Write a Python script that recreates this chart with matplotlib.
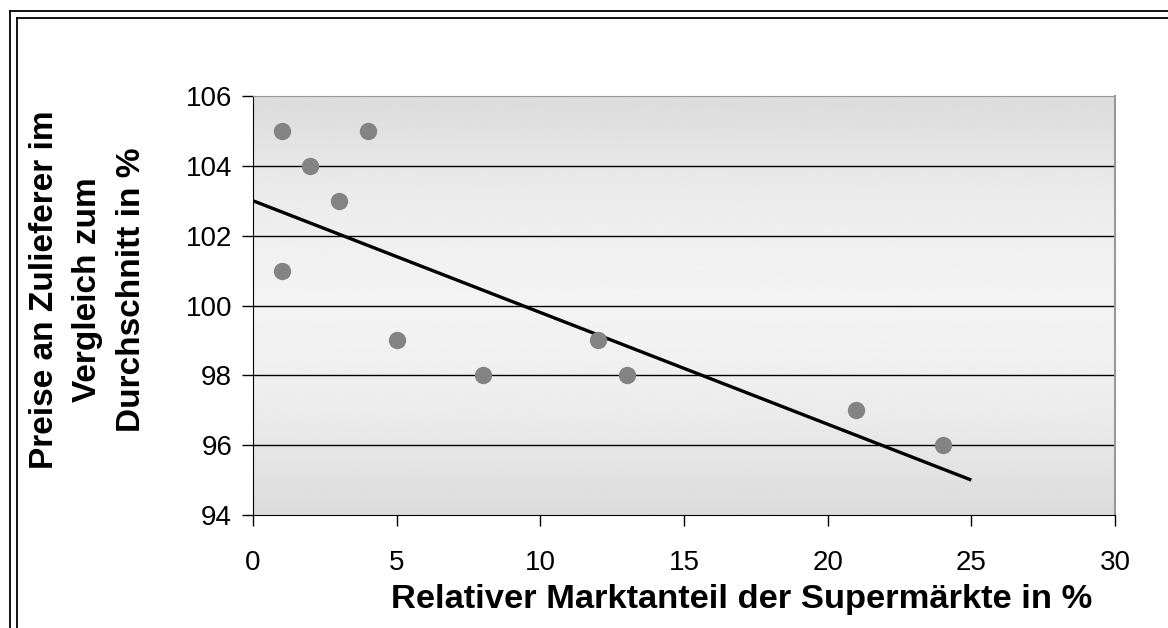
import numpy as np
import matplotlib
matplotlib.use("Agg")
import matplotlib.pyplot as plt
from matplotlib.lines import Line2D

# market share of supermarkets (%) and supplier prices vs. average (%)
marktanteil = [1, 4, 2, 3, 1, 5, 8, 12, 13, 21, 24]
preise = [105, 105, 104, 103, 101, 99, 98, 99, 98, 97, 96]

# trend line as drawn in the original
trend_x = [0, 25]
trend_y = [103, 95]

x_ticks = [0, 5, 10, 15, 20, 25, 30]
y_ticks = [94, 96, 98, 100, 102, 104, 106]

plt.rcParams['font.family'] = ['Liberation Sans', 'DejaVu Sans']

fig = plt.figure(figsize=(11.68, 6.28), dpi=100)
ax = fig.add_axes([253/1168, 1 - 515/628, (1115 - 253)/1168, (515 - 96)/628])

# gray gradient background (darker top and bottom, light in the middle)
t = np.linspace(0, 1, 256)
grad = 0.86 + 0.09 * np.sin(np.pi * t)
ax.imshow(grad.reshape(-1, 1), cmap="gray", vmin=0, vmax=1, aspect="auto",
          extent=[0, 30, 94, 106], zorder=0, interpolation="bicubic")

for yv in y_ticks[1:-1]:
    ax.axhline(yv, color="black", lw=1.0, zorder=1)

ax.plot(trend_x, trend_y, color="black", lw=2.4, zorder=2, solid_capstyle="butt")
ax.plot(marktanteil, preise, "o", color="#838383", ms=12.5, mec="none", zorder=3)

ax.set_xlim(0, 30)
ax.set_ylim(94, 106)
ax.set_xticks(x_ticks)
ax.set_yticks(y_ticks)
ax.tick_params(axis="both", labelsize=20, length=8, width=1, color="black",
               direction="out")
ax.tick_params(axis="x", pad=17)
ax.tick_params(axis="y", pad=7)

ax.spines["left"].set_color("black")
ax.spines["bottom"].set_color("black")
ax.spines["top"].set_color("#999999")
ax.spines["right"].set_color("#999999")
ax.spines["right"].set_linewidth(1.5)

fig.text(742/1168, 1 - 608/628, "Relativer Marktanteil der Supermärkte in %",
         ha="center", va="baseline", fontsize=24.8, fontweight="bold")
fig.text(88/1168, 1 - 290/628, "Preise an Zulieferer im\nVergleich zum\nDurchschnitt in %",
         ha="center", va="center", rotation=90, fontsize=24, fontweight="bold",
         linespacing=1.5, multialignment="center")

# double frame around the chart
for xx in [9.5/1168, 16.5/1168]:
    fig.add_artist(Line2D([xx, xx], [0, 1 - (11 if xx < 0.01 else 18)/628],
                          color="black", lw=1.3))
for yy, x0 in [(1 - 11/628, 9.5/1168), (1 - 18/628, 16.5/1168)]:
    fig.add_artist(Line2D([x0, 1], [yy, yy], color="black", lw=1.3))

plt.savefig("out.png", dpi=100)
